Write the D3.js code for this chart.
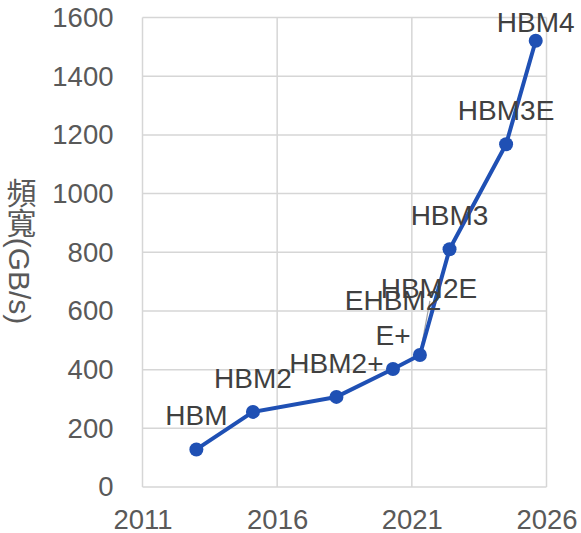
<!DOCTYPE html>
<html>
<head>
<meta charset="utf-8">
<script src="https://cdn.jsdelivr.net/npm/d3@7"></script>
<style>
  body { margin: 0; background: #fff; }
  svg text { font-family: "Liberation Sans", Arial, "Noto Sans CJK TC", sans-serif; }
</style>
</head>
<body>
<svg id="chart" width="581" height="533"></svg>
<script>
  // release year (fractional) and bandwidth in GB/s
  var years = [2013.0, 2015.1, 2018.2, 2020.3, 2021.3, 2022.4, 2024.5, 2025.6];
  var bandwidth = [128, 256, 307, 402, 450, 810, 1168, 1521];
  var labels = [["HBM"], ["HBM2"], ["HBM2+"], ["EHBM2", "E+"], ["HBM2E"], ["HBM3"], ["HBM3E"], ["HBM4"]];
  var xTicks = [2011, 2016, 2021, 2026];
  var yTicks = [0, 200, 400, 600, 800, 1000, 1200, 1400, 1600];
  var yTitle = "頻寬(GB/s)";

  var margin = { top: 17.5, right: 34.5, bottom: 46, left: 142.5 },
      outerWidth = 581,
      outerHeight = 533,
      width = outerWidth - margin.left - margin.right,
      height = outerHeight - margin.top - margin.bottom;

  var blue = "#1f50b4",
      grid = "#d6d6d6",
      tickColor = "#595959",
      labelColor = "#404040";

  var x = d3.scaleLinear().domain([2011, 2026]).range([0, width]);
  var y = d3.scaleLinear().domain([0, 1600]).range([height, 0]);

  var svg = d3.select("#chart")
    .append("g")
      .attr("transform", "translate(" + margin.left + "," + margin.top + ")");

  // grid
  svg.append("g")
    .selectAll("line")
    .data(yTicks)
    .join("line")
      .attr("x1", 0).attr("x2", width)
      .attr("y1", y).attr("y2", y)
      .attr("stroke", grid)
      .attr("stroke-width", 1.5);

  svg.append("g")
    .selectAll("line")
    .data(xTicks)
    .join("line")
      .attr("x1", x).attr("x2", x)
      .attr("y1", 0).attr("y2", height)
      .attr("stroke", grid)
      .attr("stroke-width", 1.5);

  // axes (labels only)
  svg.append("g")
      .call(d3.axisLeft(y).tickValues(yTicks).tickSize(0).tickPadding(29).tickFormat(d3.format("d")))
      .call(g => g.select(".domain").remove())
      .call(g => g.selectAll("text")
        .attr("font-size", "27.5px")
        .attr("fill", tickColor)
        .attr("font-family", null));

  svg.append("g")
      .attr("transform", "translate(0," + height + ")")
      .call(d3.axisBottom(x).tickValues(xTicks).tickSize(0).tickPadding(22).tickFormat(d3.format("d")))
      .call(g => g.select(".domain").remove())
      .call(g => g.selectAll("text")
        .attr("font-size", "27.5px")
        .attr("fill", tickColor)
        .attr("font-family", null));

  // vertical axis title
  d3.select("#chart").append("text")
      .attr("x", 19)
      .attr("y", 251)
      .attr("text-anchor", "middle")
      .attr("font-size", "30px")
      .attr("fill", tickColor)
      .style("writing-mode", "vertical-rl")
      .style("text-orientation", "mixed")
      .text(yTitle);

  var data = years.map((d, i) => ({ year: d, value: bandwidth[i], label: labels[i] }));

  // label nudges: [dx, dy of last baseline above point]
  var nudge = { 4: [9, 57], 7: [0, 9] };

  // leader line for the displaced label
  svg.append("line")
      .attr("x1", x(data[4].year))
      .attr("y1", y(data[4].value))
      .attr("x2", x(data[4].year) + nudge[4][0] + 1)
      .attr("y2", y(data[4].value) - nudge[4][1] + 3)
      .attr("stroke", "#a6a6a6")
      .attr("stroke-width", 1.2);

  var line = d3.line()
      .x(d => x(d.year))
      .y(d => y(d.value));

  svg.append("path")
      .datum(data)
      .attr("fill", "none")
      .attr("stroke", blue)
      .attr("stroke-width", 4)
      .attr("stroke-linejoin", "round")
      .attr("d", line);

  svg.append("g")
    .selectAll("circle")
    .data(data)
    .join("circle")
      .attr("cx", d => x(d.year))
      .attr("cy", d => y(d.value))
      .attr("r", 7)
      .attr("fill", blue);

  svg.append("g")
      .attr("text-anchor", "middle")
      .attr("font-size", "28px")
      .attr("fill", labelColor)
    .selectAll("text")
    .data(data)
    .join("text")
      .attr("transform", (d, i) => {
        var n = nudge[i] || [0, 24];
        return "translate(" + (x(d.year) + n[0]) + "," + (y(d.value) - n[1]) + ")";
      })
    .selectAll("tspan")
    .data(d => d.label.map((t, j) => ({ t: t, off: (j - d.label.length + 1) * 35 })))
    .join("tspan")
      .attr("x", 0)
      .attr("y", d => d.off)
      .text(d => d.t);
</script>
</body>
</html>
